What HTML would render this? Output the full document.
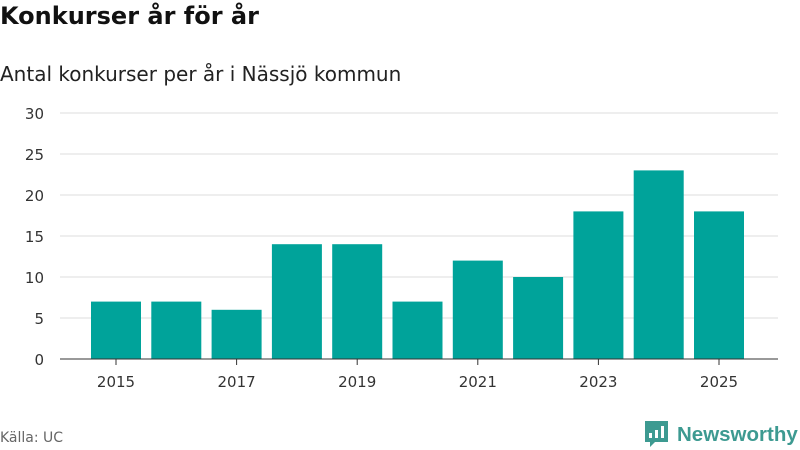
<!DOCTYPE html>
<html><head><meta charset="utf-8"><style>
body{margin:0;width:800px;height:450px;background:#fff;font-family:"DejaVu Sans","Liberation Sans",sans-serif;overflow:hidden;position:relative}
.t{position:absolute;left:0;top:2px;font-size:24px;font-weight:bold;color:#111}
.s{position:absolute;left:0;top:62px;font-size:20px;color:#222}
.src{position:absolute;left:0;top:430px;font-size:14px;color:#666}
</style></head><body>
<div class="t">Konkurser år för år</div>
<div class="s">Antal konkurser per år i Nässjö kommun</div>
<div class="src">Källa: UC</div>
<svg width="800" height="450" style="position:absolute;left:0;top:0">
<g id="grid"></g><g id="bars"></g><g id="xax"></g>
<g>
<path d="M645 421h23v21h-13l-5 5v-5h-5z" fill="#3d9a91"/>
<rect x="649" y="433" width="3" height="5" fill="#fff"/><rect x="655" y="430" width="3" height="8" fill="#fff"/><rect x="661" y="426" width="3" height="12" fill="#fff"/>
<text x="677" y="441" font-size="20.5" font-weight="bold" fill="#3d9a91" font-family="Liberation Sans,sans-serif">Newsworthy</text>
</g>
</svg>
<script>
const years=[2015,2016,2017,2018,2019,2020,2021,2022,2023,2024,2025];
const values=[7,7,6,14,14,7,12,10,18,23,18];
const yTicks=[0,5,10,15,20,25,30];
const xLabels=[2015,2017,2019,2021,2023,2025];
const NS="http://www.w3.org/2000/svg";
const y=v=>359-v*8.2;
const x=yr=>116+(yr-2015)*60.3;
function mk(tag,a,p){const e=document.createElementNS(NS,tag);for(const k in a)e.setAttribute(k,a[k]);p.appendChild(e);return e;}
const g=document.getElementById('grid');
yTicks.forEach(t=>{
 if(t>0){const l=mk('line',{x1:60,x2:778,y1:y(t),y2:y(t),stroke:'#ddd'},g);
 
 }
 const tx=mk('text',{x:44,y:y(t)+6,'text-anchor':'end','font-size':15,fill:'#333'},g);tx.textContent=t;
 
 
});
const b=document.getElementById('bars');
years.forEach((yr,i)=>{
 const r=mk('rect',{x:x(yr)-25,y:y(values[i]),width:50,height:values[i]*8.2,fill:'#00a39a'},b);
 
 
});
const xa=document.getElementById('xax');
const al=mk('line',{x1:60,x2:778,y1:359,y2:359,stroke:'#333'},xa);


xLabels.forEach(yr=>{
 mk('line',{x1:x(yr),x2:x(yr),y1:359,y2:365,stroke:'#333'},xa);
 const tx=mk('text',{x:x(yr),y:387,'text-anchor':'middle','font-size':15,fill:'#333'},xa);tx.textContent=yr;
 
 
});
</script>
</body></html>
